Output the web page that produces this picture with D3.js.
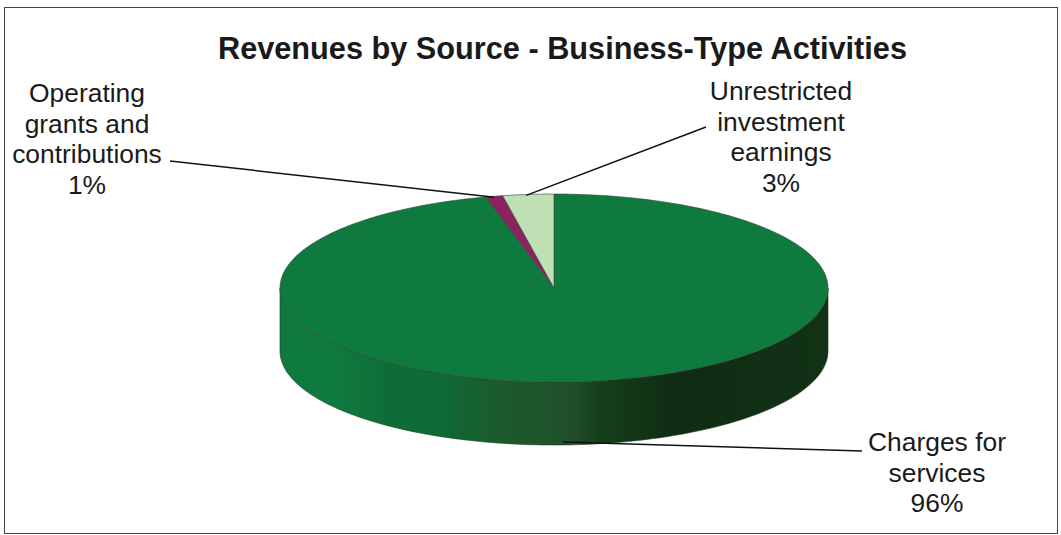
<!DOCTYPE html>
<html><head><meta charset="utf-8">
<script src="https://cdn.jsdelivr.net/npm/d3@7"></script>
<style>html,body{margin:0;background:#fff}svg{display:block}text{font-family:"Liberation Sans",Arial,sans-serif;fill:#1a1a1a}</style>
</head><body><svg id="c" width="1061" height="535"></svg>
<script>
const categories=["Charges for services","Operating grants and contributions","Unrestricted investment earnings"];
const values=[96,1,3];
const labelLines=[["Charges for","services","96%"],["Operating","grants and","contributions","1%"],["Unrestricted","investment","earnings","3%"]];
const colors=["#0f7a3e","#8e2260","#bfe0b5"];
const svg=d3.select("#c");
svg.append("rect").attr("x",4.5).attr("y",7.5).attr("width",1053).attr("height",526).attr("fill","#fff").attr("stroke","#444");
svg.append("text").attr("x",562.5).attr("y",59).attr("text-anchor","middle").attr("font-size",30.7).attr("font-weight","bold").text("Revenues by Source - Business-Type Activities");
const cx=554,cy=288,rx=274,ry=94,depth=63;
// Tilted pie: angles are computed by d3.pie, then flattened onto an ellipse.
const arcs=d3.pie().value(d=>d).sort(null).startAngle(0).endAngle(2*Math.PI)(values);
const px=a=>cx+rx*Math.sin(a), py=a=>cy-ry*Math.cos(a);
const defs=svg.append("defs");
const g=defs.append("linearGradient").attr("id","side").attr("gradientUnits","userSpaceOnUse").attr("x1",cx-rx).attr("x2",cx+rx).attr("y1",0).attr("y2",0);
[[0,"#0f7a3e"],[0.1,"#0f7a3e"],[0.2,"#0e6d37"],[0.3,"#0f6a35"],[0.38,"#1a5c2e"],[0.53,"#20502a"],[0.58,"#15401c"],[0.72,"#102c13"],[1,"#123216"]].forEach(s=>g.append("stop").attr("offset",s[0]).attr("stop-color",s[1]));
const sideAngles=d3.range(Math.PI/2,3*Math.PI/2+0.001,0.02);
const sideTop=sideAngles.map(a=>[px(a),py(a)]);
const sideBot=sideAngles.slice().reverse().map(a=>[px(a),py(a)+depth]);
svg.append("path").attr("d",d3.line()(sideTop.concat(sideBot))+"Z").attr("fill","url(#side)").attr("stroke","#1b3a22").attr("stroke-width",.6);
function wedge(d){const pts=[[cx,cy]];const n=Math.max(4,Math.ceil((d.endAngle-d.startAngle)/0.02));
 d3.range(n+1).forEach(i=>{const a=d.startAngle+(d.endAngle-d.startAngle)*i/n;pts.push([px(a),py(a)]);});return d3.line()(pts)+"Z";}
svg.selectAll("path.w").data(arcs).enter().append("path").attr("class","w").attr("d",wedge).attr("fill",(d,i)=>colors[i]).attr("stroke","#37473a").attr("stroke-width",.6);
// Callout leader lines tie each label to its slice.
const mid=i=>(arcs[i].startAngle+arcs[i].endAngle)/2;
const leaders=[[[563,442],[862,451]],[[px(mid(1)),py(mid(1))+1],[170,161]],[[px(mid(2))-2,py(mid(2))+1],[706,127]]];
svg.selectAll("path.l").data(leaders).enter().append("path").attr("class","l").attr("d",d=>d3.line()(d)).attr("fill","none").attr("stroke","#111").attr("stroke-width",1.5);
const anchors=[[937,451],[87,102],[781,100]];
labelLines.forEach((ls,i)=>{const t=svg.append("text").attr("text-anchor","middle").attr("font-size",26.4);
 ls.forEach((s,j)=>t.append("tspan").attr("x",anchors[i][0]).attr("y",anchors[i][1]+j*30.5).text(s));});
</script></body></html>
